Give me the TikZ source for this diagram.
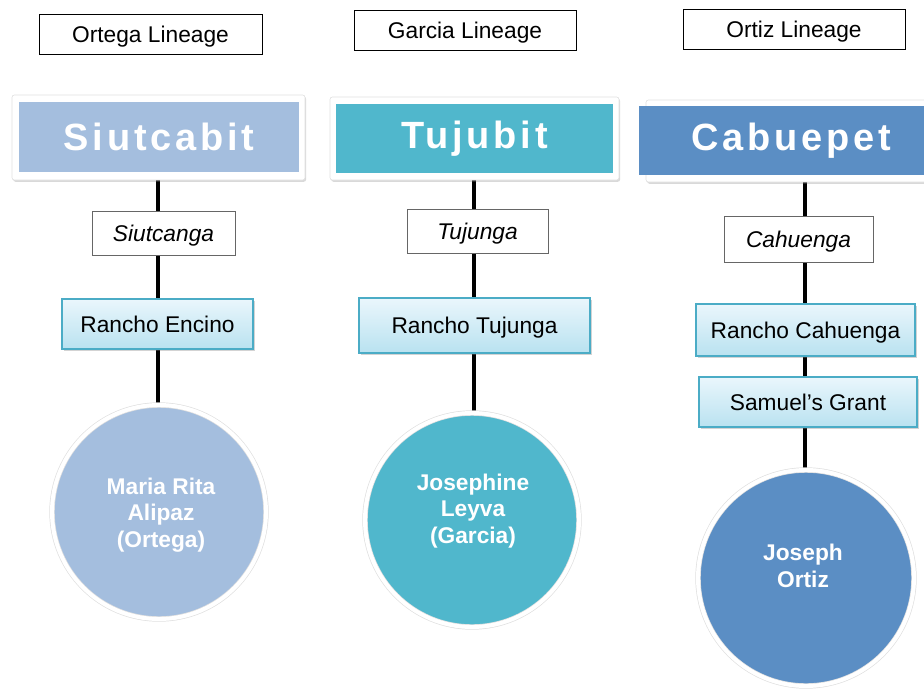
\documentclass[tikz,border=0pt]{standalone}
\usepackage{fontspec}
\setmainfont{Liberation Sans}
\newfontfamily\hdrfont[LetterSpace=10]{Liberation Sans}
\usetikzlibrary{shadows,backgrounds}
\definecolor{cA}{RGB}{164,190,222}
\definecolor{cB}{RGB}{80,183,204}
\definecolor{cC}{RGB}{91,142,196}
\definecolor{rtop}{RGB}{234,246,252}
\definecolor{rbot}{RGB}{185,226,240}
\definecolor{rborder}{RGB}{75,172,198}
\newdimen\pxu \pxu=0.03cm
\tikzset{
  x=0.03cm, y=-0.03cm,
  normtxt/.style={font=\fontsize{19.4}{23}\selectfont, text height=14.1pt, text depth=0pt},
  titlebox/.style={draw=black, line width=0.6pt, fill=white, inner sep=0pt, normtxt},
  italbox/.style={draw=black!60, line width=0.6pt, fill=white, inner sep=0pt, normtxt, font=\fontsize{19.4}{23}\selectfont\itshape},
  ranchobox/.style={draw=rborder, line width=1pt, top color=rtop, bottom color=rbot, inner sep=0pt, normtxt,
     drop shadow={opacity=0.35, shadow xshift=1.5pt, shadow yshift=-1.5pt}},
  hdrframe/.style={fill=white, draw=black!12, line width=0.5pt, rounded corners=2pt, inner sep=0pt,
     drop shadow={opacity=0.3, shadow xshift=1pt, shadow yshift=-1.5pt}},
  hdrinner/.style={inner sep=0pt, text=white, font=\hdrfont\bfseries\fontsize{32.4}{38}\selectfont},
  person/.style={circle, draw=black!12, double=white, double distance=3.4pt, line width=0.6pt, inner sep=0pt,
     drop shadow={opacity=0.25, shadow xshift=1pt, shadow yshift=-1.5pt}},
  persontxt/.style={text=white, align=center, font=\bfseries\fontsize{19.4}{22.6}\selectfont},
  conn/.style={line width=2.6pt, black}
}
\begin{document}
\begin{tikzpicture}
\clip (0,0) rectangle (924,689);
% titles
\node[titlebox, minimum width=223\pxu, minimum height=40\pxu] (t1) at (150.5,34) {Ortega Lineage};
\node[titlebox, minimum width=222\pxu, minimum height=40\pxu] (t2) at (465,30) {Garcia Lineage};
\node[titlebox, minimum width=222\pxu, minimum height=40\pxu] (t3) at (794,29) {Ortiz Lineage};
% headers
\node[hdrframe, minimum width=293\pxu, minimum height=85\pxu] (h1) at (158.5,137.5) {};
\node[hdrinner, fill=cA, minimum width=280\pxu, minimum height=70\pxu] (h1i) at (159,137) {Siutcabit};
\node[hdrframe, minimum width=289\pxu, minimum height=83\pxu] (h2) at (474.5,138.5) {};
\node[hdrinner, fill=cB, minimum width=277\pxu, minimum height=69\pxu] (h2i) at (474.5,138.5) {Tujubit};
\node[hdrframe, minimum width=318\pxu, minimum height=82\pxu] (h3) at (805,141) {};
\node[hdrinner, fill=cC, minimum width=304\pxu, minimum height=69\pxu] (h3i) at (791,140.5) {Cabuepet};
% column 1
\node[italbox, minimum width=143\pxu, minimum height=44\pxu] (s1) at (163.5,233) {Siutcanga};
\node[ranchobox, minimum width=191\pxu, minimum height=50\pxu] (r1) at (157.5,324) {Rancho Encino};
\node[person, fill=cA, minimum size=214\pxu] (c1) at (159,512) {};
\node[persontxt] (p1) at (161,515) {Maria Rita\\Alipaz\\(Ortega)};
% column 2
\node[italbox, minimum width=141\pxu, minimum height=44\pxu] (s2) at (477.5,231) {Tujunga};
\node[ranchobox, minimum width=231\pxu, minimum height=55\pxu] (r2) at (474.5,325.5) {Rancho Tujunga};
\node[person, fill=cB, minimum size=214\pxu] (c2) at (472,520) {};
\node[persontxt] (p2) at (473,511) {Josephine\\Leyva\\(Garcia)};
% column 3
\node[italbox, minimum width=149\pxu, minimum height=46\pxu] (s3) at (798.5,239) {Cahuenga};
\node[ranchobox, minimum width=219\pxu, minimum height=52\pxu] (r3) at (805.5,330) {Rancho Cahuenga};
\node[ranchobox, minimum width=218\pxu, minimum height=50\pxu] (r4) at (808,402) {Samuel’s Grant};
\node[person, fill=cC, minimum size=216\pxu] (c3) at (806,578) {};
\node[persontxt] (p3) at (803,566) {Joseph\\Ortiz};
% connectors
\begin{scope}[on background layer]
\draw[conn] ([xshift=-0.5\pxu]h1.south) -- ([xshift=-0.5\pxu]h1.south |- c1.north);
\draw[conn] ([xshift=-0.5\pxu]h2.south) -- ([xshift=-0.5\pxu]h2.south |- c2.north);
\draw[conn] (h3.south) -- (h3.south |- c3.north);
\end{scope}
\end{tikzpicture}
\end{document}
